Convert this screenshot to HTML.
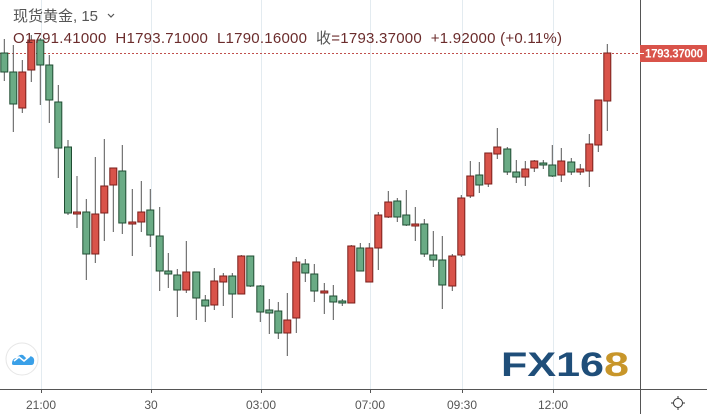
<!DOCTYPE html>
<html><head><meta charset="utf-8"><style>
html,body{margin:0;padding:0;background:#fff;width:707px;height:414px;overflow:hidden}
svg{display:block;font-family:"Liberation Sans","Noto Sans CJK SC",sans-serif}
</style></head><body>
<svg id="s" width="707" height="414" viewBox="0 0 707 414">
<g stroke="#e3ebf0" stroke-width="1">
<line x1="41.5" y1="0" x2="41.5" y2="389"/><line x1="151.5" y1="0" x2="151.5" y2="389"/>
<line x1="261.5" y1="0" x2="261.5" y2="389"/><line x1="370.5" y1="0" x2="370.5" y2="389"/>
<line x1="462.5" y1="0" x2="462.5" y2="389"/><line x1="553.5" y1="0" x2="553.5" y2="389"/>
</g>
<line x1="0" y1="53.5" x2="640" y2="53.5" stroke="#c0504d" stroke-width="1" stroke-dasharray="2,2"/>
<g id="c"></g>
<line x1="0" y1="389.5" x2="707" y2="389.5" stroke="#555" stroke-width="1"/>
<line x1="640.5" y1="0" x2="640.5" y2="414" stroke="#555" stroke-width="1"/>
<g stroke="#555"><line x1="41.5" y1="389" x2="41.5" y2="393"/><line x1="151.5" y1="389" x2="151.5" y2="393"/><line x1="261.5" y1="389" x2="261.5" y2="393"/><line x1="370.5" y1="389" x2="370.5" y2="393"/><line x1="462.5" y1="389" x2="462.5" y2="393"/><line x1="553.5" y1="389" x2="553.5" y2="393"/></g>
<g font-size="12" fill="#555" text-anchor="middle">
<text x="41" y="409">21:00</text><text x="151" y="409">30</text><text x="261" y="409">03:00</text>
<text x="370" y="409">07:00</text><text x="462" y="409">09:30</text><text x="553" y="409">12:00</text></g>
<rect x="640" y="45" width="67" height="17" fill="#d9534a"/>
<line x1="640" y1="53.5" x2="644" y2="53.5" stroke="#fff"/>
<text x="674" y="57.5" font-size="11.5" fill="#fff" text-anchor="middle" font-weight="bold" textLength="58">1793.37000</text>
<text x="13" y="21" font-size="15" fill="#555">现货黄金, 15</text>
<path d="M108 14 l3 3 l3 -3" fill="none" stroke="#555" stroke-width="1.2"/>
<text x="13" y="43" font-size="15" fill="#6b2c2c" xml:space="preserve" textLength="549">O1791.41000  H1793.71000  L1790.16000  <tspan fill="#555">收</tspan>=1793.37000  +1.92000 (+0.11%)</text>
<circle cx="22" cy="359" r="16" fill="#fff" stroke="#e6e6e6"/>
<path d="M12 364 q0-6 5-6 q2-4 6-3 l4 4 l3-3 q5 1 4 6 q0 3-3 3 h-16 q-3 0-3-1z" fill="#3aa0e8"/>
<path d="M14 361 l5-4 l5 4 l6-5" fill="none" stroke="#fff" stroke-width="1.5"/>
<text x="501" y="376" font-size="34" font-weight="bold" fill="#1f4e79" textLength="103" lengthAdjust="spacingAndGlyphs">FX16</text>
<text x="604" y="376" font-size="34" font-weight="bold" fill="#c8962a" textLength="25" lengthAdjust="spacingAndGlyphs">8</text>
<circle cx="678" cy="403" r="4.5" fill="none" stroke="#333"/>
<g stroke="#333"><line x1="678" y1="396" x2="678" y2="398"/><line x1="678" y1="408" x2="678" y2="410"/><line x1="671" y1="403" x2="673" y2="403"/><line x1="683" y1="403" x2="685" y2="403"/></g>
</svg>
<script>
var d=[
[4.3,'G',53,72,39,81],[13.3,'G',72,104,45,132],[22.3,'R',72,108,60,113],[31.3,'R',40,70,35,82],[40.3,'G',40,65,38,105],
[49.3,'G',65,100,55,123],[58.3,'G',102,148,85,178],[68,'G',147,213,140,215],[77,'R',212,213,176,228],[86.3,'G',212,254,199,280],
[95.3,'R',214,254,157,263],[104.3,'R',186,213,139,241],[113.3,'R',168,185,168,232],[122.3,'G',171,223,145,234],[132.3,'R',222,224,189,256],
[141.3,'R',212,222,181,232],[150.3,'G',210,235,189,247],[159.7,'G',236,271,207,291],[168.3,'G',271,274,253,288],[177.3,'G',275,290,269,317],
[186.3,'R',272,290,241,293],[196.3,'G',272,298,272,320],[205.3,'G',300,306,295,322],[214.3,'R',281,305,268,310],[223.3,'R',276,282,273,306],
[232.3,'G',276,294,273,318],[241.3,'R',256,294,255,294],[250.3,'G',256,286,256,287],[260.3,'G',286,312,285,322],[269.3,'G',310,313,299,334],
[278.3,'G',311,333,302,339],[287.3,'R',320,333,293,356],[296.3,'R',262,318,257,333],[305.3,'G',264,273,259,282],[314.3,'G',274,291,264,302],
[324.3,'R',291,292,283,314],[333.3,'G',296,302,285,320],[342.3,'G',301,303,299,306],[351.3,'R',246,303,245,303],[360.3,'G',248,271,243,271],
[369.3,'R',248,282,243,282],[378.3,'R',215,248,212,270],[388.3,'R',202,217,191,218],[397.3,'G',201,217,198,222],[406.3,'G',215,225,190,226],
[415.3,'R',224,225,207,241],[424.3,'G',224,254,219,257],[433.3,'G',255,260,231,267],[442.3,'G',260,285,236,309],[452.3,'R',256,286,254,291],
[461.3,'R',198,255,195,257],[470.3,'R',176,196,161,198],[479.3,'G',175,185,162,193],[488.3,'R',153,184,153,187],[497.3,'R',147,154,128,159],
[507.3,'G',149,172,147,175],[516.3,'G',172,177,160,183],[525.3,'R',169,177,161,186],[534.3,'R',161,168,160,172],[543.3,'G',163,165,160,169],
[552.3,'G',165,176,145,177],[561.3,'R',161,175,148,182],[571.3,'G',162,172,158,175],[580.3,'R',169,172,164,175],[589.3,'R',144,171,134,187],
[598.3,'R',100,145,100,152],[607.3,'R',53,101,44,131]];
var h='';
d.forEach(function(c){var x=c[0],f=c[1]=='R'?'#d9534a':'#6aab85',s=c[1]=='R'?'#7a1e1a':'#1f4d32';
h+='<line x1="'+x+'" y1="'+c[4]+'" x2="'+x+'" y2="'+c[5]+'" stroke="#555"/>';
var t=c[2],b=Math.max(c[3],t+2);
h+='<rect x="'+(x-3.5)+'" y="'+t+'" width="7" height="'+(b-t)+'" fill="'+f+'" stroke="'+s+'" stroke-width="1"/>';});
document.getElementById('c').innerHTML=h;
</script>
</body></html>
